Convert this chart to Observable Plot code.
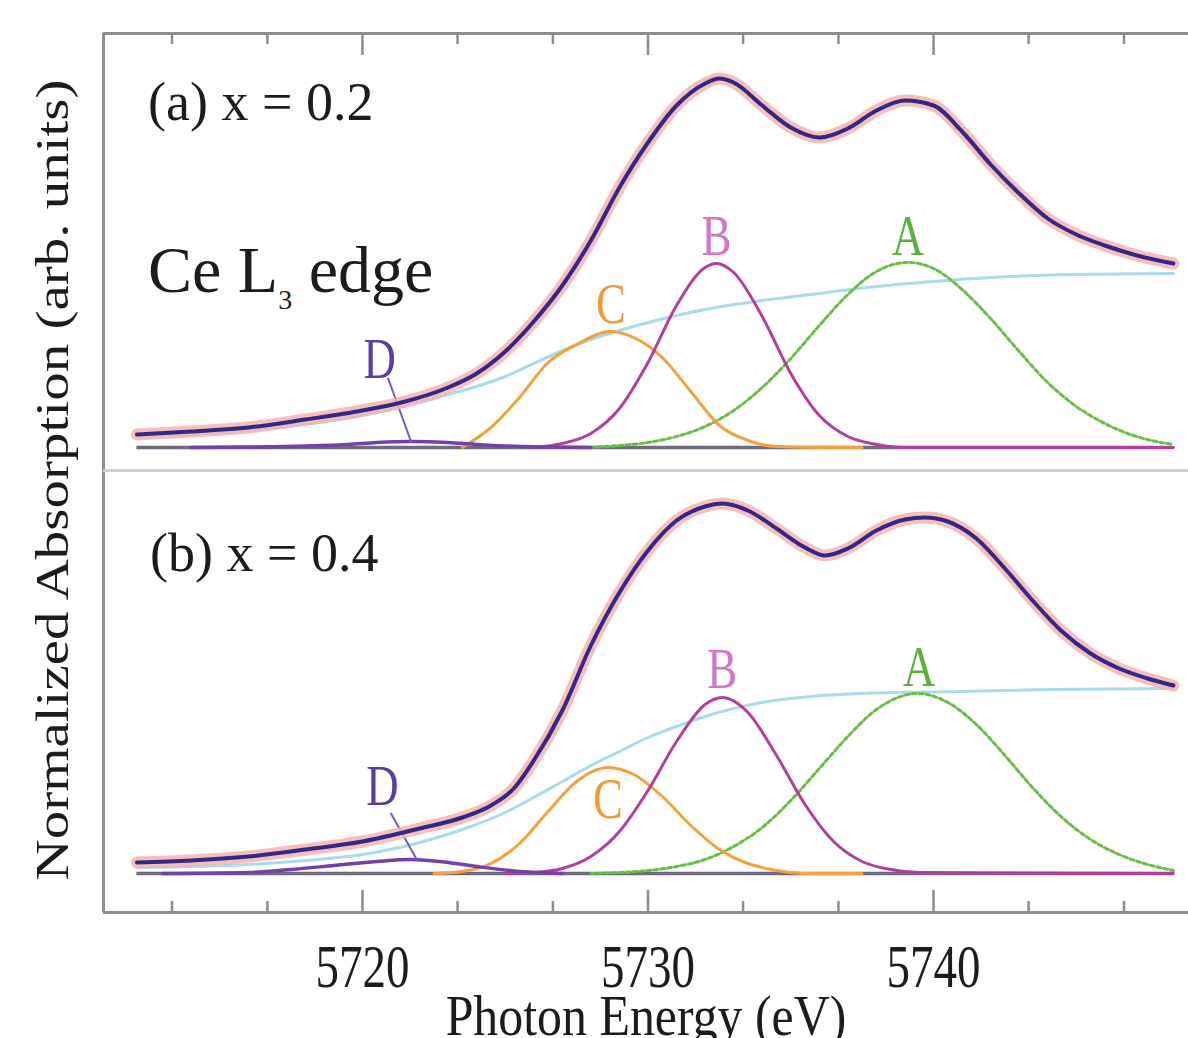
<!DOCTYPE html>
<html>
<head>
<meta charset="utf-8">
<script src="https://cdn.jsdelivr.net/npm/d3@7"></script>
<script src="https://cdn.jsdelivr.net/npm/@observablehq/plot@0.6"></script>
<style>
  html, body { margin: 0; padding: 0; background: #fff; }
  #fig { position: relative; width: 1188px; height: 1038px; overflow: hidden; background: #fff;
         font-family: "Liberation Serif", "Times New Roman", serif; color: #1c1c1c; }
  #fig > svg { position: absolute; left: 0; }
  .lab { position: absolute; white-space: nowrap; line-height: 1; }
</style>
</head>
<body>
<div id="fig"></div>
<script>
// ---------------- data (energies in eV, intensities in arb. units) ----------------
// Panel (a) x = 0.2
const eTotalA = [5712.1,5714,5716,5718,5720,5721.5,5723,5724,5725,5726,5727,5728,5729,5730,5731,5732,5732.5,5733,5734,5735,5736,5737,5738,5739,5740,5741,5742,5743,5744,5745,5746,5747,5748.4];
const totalA  = [13,16,20,28,37,46,60,74,96,126,162,207,260,305,342,364,369,365,342,320,310,319,337,347,342,316,283,254,229,213,202,193,184];
const eStepA  = [5712.1,5716,5720,5722,5723,5724,5725,5726,5727,5728,5729,5730,5731,5732,5733,5734,5736,5738,5740,5742,5745,5748.4];
const stepA   = [11,17,32,45,53,61,71,84,97,108,117,125,132,138,143,147,154,161,166,170,173,174];
const ePeakA_A = [5728,5729,5730,5731,5732,5733,5734,5735,5736,5737,5738,5739.1,5740,5741,5742,5743,5744,5745,5746,5747,5748.4];
const peakA_A  = [0,2,5,11,21,37,60,89,122,153,176,185,179,158,129,96,65,41,24,12,3];
const ePeakB_A = [5726,5727,5728,5729,5730,5731,5732,5732.4,5733,5734,5735,5736,5737,5738,5739,5748.4];
const peakB_A  = [0,4,14,39,85,142,180,184,175,131,74,32,11,3,0,0];
const ePeakC_A = [5723.5,5724.5,5725.5,5726.5,5727.5,5728.7,5729.5,5730.5,5731.5,5732.5,5733.5,5734.5,5736,5737.5];
const peakC_A  = [0,20,50,85,103,116,110,90,56,22,7,1,0,0];
const ePeakD_A = [5714,5716,5718,5719.5,5720.5,5721.7,5723,5724,5725,5726.5,5728];
const peakD_A  = [0,0.5,1.5,3,5,6,5,3,1.5,0.5,0];

// Panel (b) x = 0.4
const eTotalB = [5712.1,5714,5716,5718,5720,5722,5723.5,5724.5,5725.3,5726,5727,5728,5729,5730,5731,5732,5732.6,5733.5,5734.5,5735.5,5736.2,5737,5738,5739,5739.7,5740.5,5741.5,5742.5,5743.5,5744.5,5745.5,5746.5,5747.5,5748.4];
const totalB  = [11,13,17,24,32,45,56,68,85,113,163,228,281,323,353,367,370,363,345,326,318,325,343,354,356,352,335,305,272,242,220,205,195,188];
const eStepB  = [5712.1,5716,5718,5720,5721.3,5722.5,5723.6,5725,5726,5727,5728,5729,5730,5731,5732,5733,5734,5735,5737.4,5740.9,5744,5748.4];
const stepB   = [6,9,13,19,26,35,45,61,76,92,108,122,136,147,157,165,171,175,180,182,184,185];
const ePeakA_B = [5728,5729,5730,5731,5732,5733,5734,5735,5736,5737,5738,5739.45,5740.5,5741.5,5742.5,5743.5,5744.5,5745.5,5746.5,5747.5,5748.4];
const peakA_B  = [0,1,3,7,14,27,46,73,105,137,164,180,171,149,118,85,56,34,19,9,3];
const ePeakB_B = [5725,5726,5727,5728,5729,5730,5731,5732,5732.6,5733.5,5734.5,5735.5,5736.5,5737.5,5738.5,5739.5,5748.4];
const peakB_B  = [0,1,5,17,42,83,132,169,176,161,118,69,32,12,4,1,0];
const ePeakC_B = [5722.5,5723.5,5724.5,5725.5,5726.5,5727.5,5728.6,5729.5,5730.5,5731.5,5732.5,5733.5,5734.5,5735.5,5737.5];
const peakC_B  = [0,2,10,30,62,92,106,99,77,48,24,10,3,0,0];
const ePeakD_B = [5713,5716,5717.5,5719,5720.5,5721.7,5723,5724,5725.5,5727];
const peakD_B  = [0,1,4,8,12,14,11,7,2,0];

// Peak labels
const labelNames  = ["A", "B", "C", "D"];
const labelColors = ["#5cb13e", "#d277c4", "#f09a3a", "#5b3d9c"];
const labelE_A = [5739.1, 5732.4, 5728.7, 5720.6];
const labelH_A = [210, 210, 142, 87];
const labelE_B = [5739.5, 5732.6, 5728.6, 5720.7];
const labelH_B = [205, 203, 73, 86];
// D leader lines
const leadE_A = [5720.9, 5721.7];
const leadH_A = [69, 6];
const leadE_B = [5721.0, 5721.9];
const leadH_B = [60, 14];

// Axis ticks
const majorTicks = [5720, 5730, 5740];
const minorTicks = [5713.33, 5716.67, 5723.33, 5726.67, 5733.33, 5736.67, 5743.33, 5746.67];
const xTitle = "Photon Energy (eV)";

// ---------------- drawing ----------------
const fig = document.getElementById("fig");
const xDomain = [5710.93, 5748.93];
const yDomA = [-23, 414];
const yDomB = [-39, 403];
const FONT = "Liberation Serif, Times New Roman, serif";
const frameGray = "#8d8d8d";

const series = (E, H) => E.map((e, i) => ({e, h: H[i]}));
const L = (E, H, o) => Plot.line(series(E, H), {x: "e", y: "h", curve: "monotone-x", strokeLinejoin: "round", strokeLinecap: "round", ...o});

function curveMarks(d) {
  return [
    Plot.ruleY([0], {x1: d.totE[0], x2: d.totE[d.totE.length - 1], stroke: "#6f6a7e", strokeWidth: 3.5}),
    L(d.stepE, d.step, {stroke: "#a9dbe9", strokeWidth: 3}),
    L(d.aE, d.a, {stroke: "#69be46", strokeWidth: 3, strokeDasharray: "4,3"}),
    L(d.cE, d.c, {stroke: "#f2a13e", strokeWidth: 3}),
    L(d.bE, d.b, {stroke: "#b23f9c", strokeWidth: 3}),
    L(d.dE, d.d, {stroke: "#7442a6", strokeWidth: 3.5}),
    L(d.leadE, d.leadH, {stroke: "#7a5ab0", strokeWidth: 2, curve: "linear"}),
    L(d.totE, d.tot, {stroke: "#f5b4ae", strokeWidth: 12, strokeOpacity: 0.85}),
    L(d.totE, d.tot, {stroke: "#33288a", strokeWidth: 4}),
    Plot.text(labelNames, {
      x: (t, i) => d.labE[i], y: (t, i) => d.labH[i], text: t => t,
      fill: (t, i) => labelColors[i], fontSize: 56, fontFamily: FONT,
      lineAnchor: "middle"
    })
  ];
}

// horizontally condense SVG texts (the reference typography is narrow)
function squeeze(svg, widthOf) {
  svg.querySelectorAll("text").forEach(t => {
    const s = widthOf(t.textContent);
    if (!s || s === 1) return;
    const tr = t.getAttribute("transform") || "";
    const x = t.getAttribute("x");
    let extra = "";
    if (x && parseFloat(x) !== 0) { extra = ` translate(${parseFloat(x)},0)`; t.setAttribute("x", "0"); }
    t.setAttribute("transform", `${tr}${extra} scale(${s},1)`);
  });
}
const condense = (txt) =>
  labelNames.includes(txt) ? 0.8 :
  majorTicks.map(String).includes(txt) ? 0.77 :
  txt === xTitle ? 0.86 : 1;

// Panel (a)
const plotA = Plot.plot({
  width: 1188, height: 470,
  marginTop: 33, marginBottom: 0, marginLeft: 103, marginRight: 0,
  x: {domain: xDomain, axis: null},
  y: {domain: yDomA, axis: null},
  color: {type: "identity"},
  style: {background: "transparent", overflow: "visible"},
  marks: [
    ...curveMarks({totE: eTotalA, tot: totalA, stepE: eStepA, step: stepA,
      aE: ePeakA_A, a: peakA_A, bE: ePeakB_A, b: peakB_A, cE: ePeakC_A, c: peakC_A, dE: ePeakD_A, d: peakD_A,
      leadE: leadE_A, leadH: leadH_A, labE: labelE_A, labH: labelH_A}),
    Plot.ruleX([xDomain[0]], {stroke: frameGray, strokeWidth: 3}),
    Plot.ruleY([yDomA[1]], {stroke: frameGray, strokeWidth: 3}),
    Plot.ruleX(majorTicks, {stroke: frameGray, strokeWidth: 2.5, insetBottom: 437 - 22}),
    Plot.ruleX(minorTicks, {stroke: frameGray, strokeWidth: 2.5, insetBottom: 437 - 11})
  ]
});
plotA.style.top = "0px";
squeeze(plotA, condense);
fig.appendChild(plotA);

// Panel (b)
const plotB = Plot.plot({
  width: 1188, height: 570,
  marginTop: 2, marginBottom: 126, marginLeft: 103, marginRight: 0,
  x: {domain: xDomain, axis: null},
  y: {domain: yDomB, axis: null},
  color: {type: "identity"},
  style: {background: "transparent", overflow: "visible"},
  marks: [
    ...curveMarks({totE: eTotalB, tot: totalB, stepE: eStepB, step: stepB,
      aE: ePeakA_B, a: peakA_B, bE: ePeakB_B, b: peakB_B, cE: ePeakC_B, c: peakC_B, dE: ePeakD_B, d: peakD_B,
      leadE: leadE_B, leadH: leadH_B, labE: labelE_B, labH: labelH_B}),
    Plot.ruleX([xDomain[0]], {stroke: frameGray, strokeWidth: 3}),
    Plot.ruleY([yDomB[0]], {stroke: frameGray, strokeWidth: 3}),
    Plot.ruleY([yDomB[1]], {stroke: "#cfcfcf", strokeWidth: 3}),
    Plot.ruleX(majorTicks, {stroke: frameGray, strokeWidth: 2.5, insetTop: 442 - 22}),
    Plot.ruleX(minorTicks, {stroke: frameGray, strokeWidth: 2.5, insetTop: 442 - 11}),
    Plot.text(majorTicks, {x: d => d, text: d => String(d), frameAnchor: "bottom", dy: 74,
      lineAnchor: "bottom", fontSize: 61, fontFamily: FONT, fill: "#1c1c1c"}),
    Plot.text([xTitle], {text: d => d, frameAnchor: "bottom", dy: 122,
      lineAnchor: "bottom", fontSize: 58, fontFamily: FONT, fill: "#1c1c1c"})
  ]
});
plotB.style.top = "468px";
squeeze(plotB, condense);
fig.appendChild(plotB);

// Static annotations
function addLabel(html, left, baseline, size, sx) {
  const el = document.createElement("div");
  el.className = "lab";
  el.innerHTML = html;
  el.style.left = left + "px";
  el.style.top = (baseline - 0.8375 * size) + "px";
  el.style.fontSize = size + "px";
  el.style.transformOrigin = "0 0";
  el.style.transform = `scaleX(${sx})`;
  fig.appendChild(el);
}
addLabel("(a) x = 0.2", 148, 120, 54, 1.0);
addLabel("(b) x = 0.4", 150, 571, 54, 1.0);
addLabel('Ce L<span style="font-size:28px;vertical-align:-17px;">3</span> edge', 148, 292, 66, 1.0);

const yl = document.createElement("div");
yl.className = "lab";
yl.textContent = "Normalized Absorption (arb. units)";
yl.style.fontSize = "57px";
yl.style.left = "52px";
yl.style.top = "480px";
yl.style.transform = "translate(-50%,-50%) scaleX(0.8) rotate(-90deg)";
fig.appendChild(yl);
</script>
</body>
</html>
